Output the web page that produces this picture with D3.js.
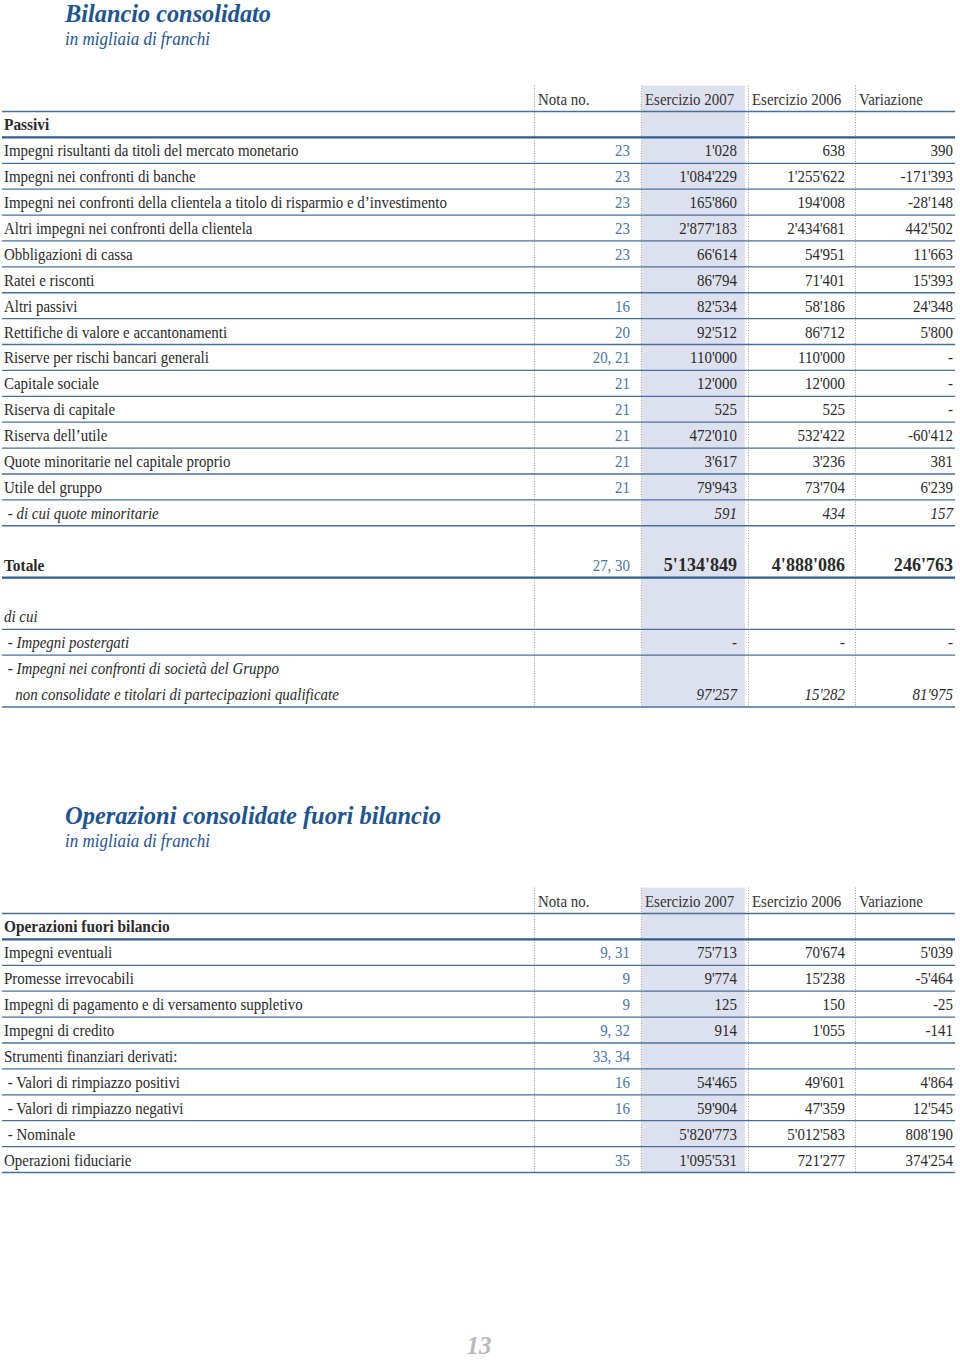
<!DOCTYPE html>
<html><head><meta charset="utf-8">
<script src="https://cdn.jsdelivr.net/npm/d3@7"></script>
<style>
html,body{margin:0;padding:0;background:#fff;}
svg{display:block;}
text{font-family:"Liberation Serif","Times New Roman",serif;}
</style></head>
<body>
<svg id="chart" width="960" height="1361"></svg>
<script>
// ---------- DATA ----------
const columns = ["Nota no.", "Esercizio 2007", "Esercizio 2006", "Variazione"];

const t1Title = "Bilancio consolidato";
const t1Sub = "in migliaia di franchi";
const t1Section = "Passivi";
const t1Labels = [
  "Impegni risultanti da titoli del mercato monetario",
  "Impegni nei confronti di banche",
  "Impegni nei confronti della clientela a titolo di risparmio e d’investimento",
  "Altri impegni nei confronti della clientela",
  "Obbligazioni di cassa",
  "Ratei e risconti",
  "Altri passivi",
  "Rettifiche di valore e accantonamenti",
  "Riserve per rischi bancari generali",
  "Capitale sociale",
  "Riserva di capitale",
  "Riserva dell’utile",
  "Quote minoritarie nel capitale proprio",
  "Utile del gruppo",
  " - di cui quote minoritarie"
];
const t1Notes = ["23","23","23","23","23","","16","20","20, 21","21","21","21","21","21",""];
const t1Y2007 = [1028, 1084229, 165860, 2877183, 66614, 86794, 82534, 92512, 110000, 12000, 525, 472010, 3617, 79943, 591];
const t1Y2006 = [638, 1255622, 194008, 2434681, 54951, 71401, 58186, 86712, 110000, 12000, 525, 532422, 3236, 73704, 434];
const t1Var   = [390, -171393, -28148, 442502, 11663, 15393, 24348, 5800, 0, 0, 0, -60412, 381, 6239, 157];

const totLabel = "Totale";
const totNote = "27, 30";
const totValues = [5134849, 4888086, 246763];

const diCuiLabel = "di cui";
const diCuiLabels = [[" - Impegni postergati"], [" - Impegni nei confronti di società del Gruppo", "   non consolidate e titolari di partecipazioni qualificate"]];
const diCui2007 = [0, 97257];
const diCui2006 = [0, 15282];
const diCuiVar  = [0, 81975];

const t2Title = "Operazioni consolidate fuori bilancio";
const t2Sub = "in migliaia di franchi";
const t2Section = "Operazioni fuori bilancio";
const t2Labels = [
  "Impegni eventuali",
  "Promesse irrevocabili",
  "Impegni di pagamento e di versamento suppletivo",
  "Impegni di credito",
  "Strumenti finanziari derivati:",
  " - Valori di rimpiazzo positivi",
  " - Valori di rimpiazzo negativi",
  " - Nominale",
  "Operazioni fiduciarie"
];
const t2Notes = ["9, 31","9","9","9, 32","33, 34","16","16","","35"];
const t2Y2007 = [75713, 9774, 125, 914, null, 54465, 59904, 5820773, 1095531];
const t2Y2006 = [70674, 15238, 150, 1055, null, 49601, 47359, 5012583, 721277];
const t2Var   = [5039, -5464, -25, -141, null, 4864, 12545, 808190, 374254];

const pageNumber = "13";

// ---------- STYLE ----------
const BLUE_TITLE = "#1d5491";
const BLUE_NOTE = "#4a76a6";
const LINE = "#45709b";
const LINE_THICK = "#2e5e8e";
const SHADE = "#dde1ee";
const TXT = "#2a2a2a";
const FS = 17;

const svg = d3.select("#chart");
const loc = d3.formatLocale({decimal: ".", thousands: "'", grouping: [3], currency: ["", ""], minus: "-"});
const fmtN = loc.format(",d");
const fmt = v => v === null || v === undefined ? "" : (v === 0 ? "-" : fmtN(v));

// measure condensation factor for the narrow serif
const probe = svg.append("text").attr("font-size", FS).text(t1Labels[2]);
const K = 443 / probe.node().getComputedTextLength();
probe.remove();

const x = d3.scaleBand().domain(columns).range([534, 962]).padding(0);
const TABLE_L = 2, TABLE_R = 955;

function txt(g, str, px, py, opts = {}) {
  return g.append("text")
    .attr("transform", `translate(${px},${py}) scale(${opts.k || K},1)`)
    .attr("font-size", opts.size || FS)
    .attr("fill", opts.fill || TXT)
    .attr("text-anchor", opts.anchor || "start")
    .attr("font-style", opts.italic ? "italic" : "normal")
    .attr("font-weight", opts.bold ? "bold" : "normal")
    .attr("xml:space", "preserve")
    .style("white-space", "pre")
    .text(str);
}

function drawTable(rows, yScale, nUnits, title, sub, titleBase, titleW) {
  const g = svg.append("g");
  g.append("text").attr("x", 65).attr("y", titleBase)
    .attr("font-size", 26).attr("font-style", "italic").attr("font-weight", "bold")
    .attr("fill", BLUE_TITLE).attr("textLength", titleW).attr("lengthAdjust", "spacingAndGlyphs")
    .text(title);
  g.append("text").attr("x", 65).attr("y", titleBase + 22.5)
    .attr("font-size", 18).attr("font-style", "italic")
    .attr("fill", BLUE_TITLE).attr("textLength", 145).attr("lengthAdjust", "spacingAndGlyphs")
    .text(sub);

  const top = yScale(-1), bottom = yScale(nUnits);
  g.append("rect").attr("x", x(columns[1]) + 1).attr("y", top)
    .attr("width", x.bandwidth() - 4).attr("height", bottom - top).attr("fill", SHADE);
  g.selectAll("line.sep").data(columns).join("line")
    .attr("x1", d => x(d) + 0.5).attr("x2", d => x(d) + 0.5)
    .attr("y1", top).attr("y2", bottom)
    .attr("stroke", "#9a9a9a").attr("stroke-width", 1).attr("stroke-dasharray", "1,1.6");
  columns.forEach(c => txt(g, c, x(c) + 4, yScale(0) - 7, {fill: "#333"}));
  g.append("line").attr("x1", TABLE_L).attr("x2", TABLE_R)
    .attr("y1", yScale(0)).attr("y2", yScale(0)).attr("stroke", LINE).attr("stroke-width", 1.4);

  rows.forEach(r => {
    const yl = yScale(r.u);
    const base = yl - 7;
    const labels = Array.isArray(r.label) ? r.label : [r.label];
    labels.forEach((lab, i) => {
      const by = base - (labels.length - 1 - i) * 25.9;
      txt(g, lab, 4, by, {bold: r.bold, italic: r.italic, size: r.bold ? 17.5 : FS});
    });
    if (r.note) txt(g, r.note, x(columns[0]) + 96, base, {anchor: "end", fill: BLUE_NOTE});
    if (r.vals) r.vals.forEach((v, i) => {
      const c = columns[i + 1];
      txt(g, fmt(v), x(c) + 97 + (i === 0 ? -1 : 0) + (i === 2 ? 1 : 0), base,
        {anchor: "end", bold: r.bold, italic: r.italic, size: r.bold ? 19 : FS, k: r.bold ? 0.95 : K});
    });
    g.append("line").attr("x1", TABLE_L).attr("x2", TABLE_R).attr("y1", yl).attr("y2", yl)
      .attr("stroke", r.thick ? LINE_THICK : LINE).attr("stroke-width", r.thick ? 2.2 : 1.3);
  });
}

// ---------- TABLE 1 ----------
const rows1 = [];
rows1.push({label: t1Section, bold: true, thick: true, u: 1});
t1Labels.forEach((l, i) => rows1.push({
  label: l, note: t1Notes[i], vals: [t1Y2007[i], t1Y2006[i], t1Var[i]],
  italic: i === t1Labels.length - 1, u: 2 + i
}));
rows1.push({label: totLabel, note: totNote, vals: totValues, bold: true, thick: true, u: 18});
rows1.push({label: diCuiLabel, italic: true, u: 20});
rows1.push({label: diCuiLabels[0], vals: [diCui2007[0], diCui2006[0], diCuiVar[0]], italic: true, u: 21});
rows1.push({label: diCuiLabels[1], vals: [diCui2007[1], diCui2006[1], diCuiVar[1]], italic: true, u: 23});
const y1 = d3.scaleLinear().domain([0, 23]).range([111.5, 707]);
drawTable(rows1, y1, 23, t1Title, t1Sub, 22, 206);

// ---------- TABLE 2 ----------
const rows2 = [];
rows2.push({label: t2Section, bold: true, thick: true, u: 1});
t2Labels.forEach((l, i) => rows2.push({
  label: l, note: t2Notes[i], vals: [t2Y2007[i], t2Y2006[i], t2Var[i]], u: 2 + i
}));
const y2 = d3.scaleLinear().domain([0, 10]).range([913.5, 1172.5]);
drawTable(rows2, y2, 10, t2Title, t2Sub, 824, 376);

// page number
svg.append("text").attr("x", 479).attr("y", 1354).attr("text-anchor", "middle")
  .attr("font-size", 25).attr("font-style", "italic").attr("font-weight", "bold")
  .attr("fill", "#b9b9b9").text(pageNumber);
</script>
</body></html>
